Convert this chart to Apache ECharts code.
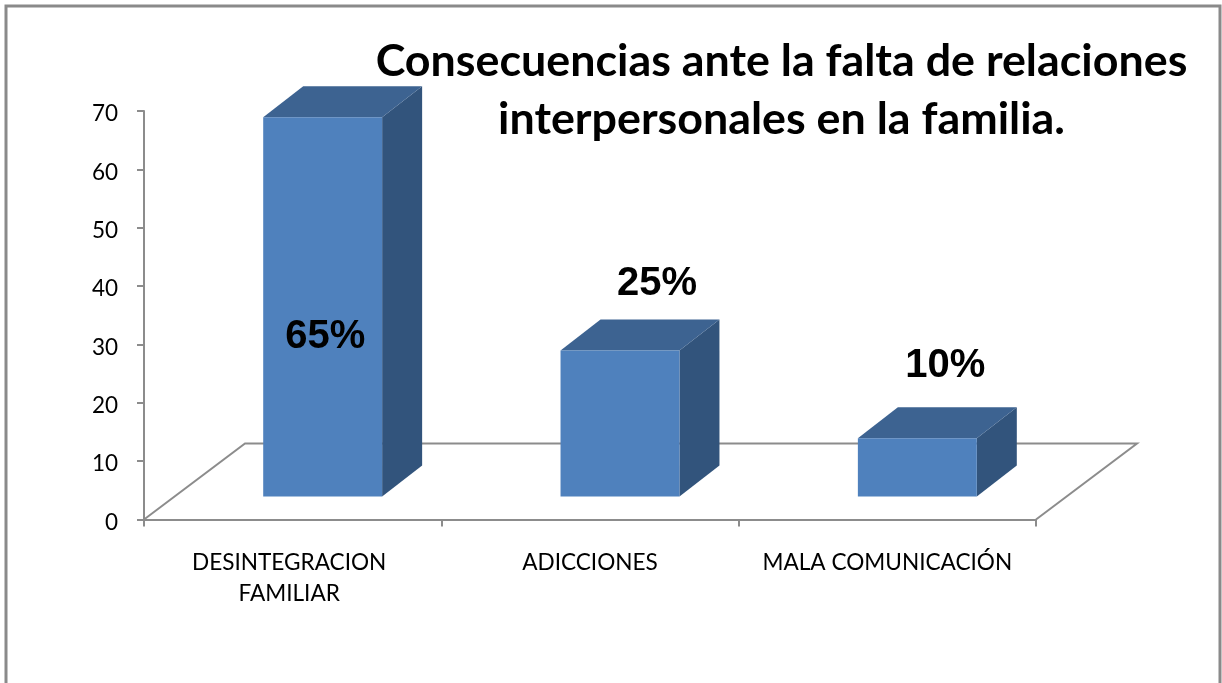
<!DOCTYPE html>
<html><head><meta charset="utf-8">
<style>html,body{margin:0;padding:0;background:#fff}#c{width:1222px;height:683px}</style>
<script src="https://cdn.jsdelivr.net/npm/echarts@6/dist/echarts.min.js"></script>
</head><body><div id="c"></div>
<script>
const categories = ['DESINTEGRACION\nFAMILIAR', 'ADICCIONES', 'MALA COMUNICACIÓN'];
const values = [65, 25, 10];
const labels = ['65%', '25%', '10%'];
const yTicks = {min: 0, max: 70, interval: 10};
const titleText = 'Consecuencias ante la falta de relaciones\ninterpersonales en la familia.';

const FONT = 'Lato';
const C = {front:'#4f81bd', top:'#3d6391', side:'#32547c', axis:'#8c8c8c', frame:'#8a8a8a'};
const FLOOR = [101, -76];
const BAR_SHIFT = [30, -23];
const BAR_DEPTH = [40, -31];
const BAR_RATIO = 0.4;
const LABEL_POS = [{dx: 2.5, y: -220}, {dx: 37, y: 67}, {dx: 28, y: 72}];

const chart = echarts.init(document.getElementById('c'), null, {renderer: 'canvas'});

function floorItem(params, api) {
  const g = params.coordSys;
  const bx = g.x, by = g.y + g.height, ex = g.x + g.width;
  const s = {stroke: C.axis, lineWidth: 2, fill: null};
  return {type: 'group', children: [
    {type: 'polyline', shape: {points: [[bx, by], [bx + FLOOR[0], by + FLOOR[1]], [ex + FLOOR[0], by + FLOOR[1]], [ex, by]]}, style: s}
  ]};
}
function barItem(params, api) {
  const i = api.value(0), v = api.value(1);
  const base = api.coord([i, 0]), topP = api.coord([i, v]);
  const w = api.size([1, 0])[0] * BAR_RATIO;
  const x0 = base[0] - w / 2 + BAR_SHIFT[0], x1 = x0 + w;
  const y0 = base[1] + BAR_SHIFT[1], y1 = topP[1] + BAR_SHIFT[1];
  const dx = BAR_DEPTH[0], dy = BAR_DEPTH[1];
  return {type: 'group', children: [
    {type: 'polygon', shape: {points: [[x1, y0], [x1 + dx, y0 + dy], [x1 + dx, y1 + dy], [x1, y1]]}, style: {fill: C.side}},
    {type: 'polygon', shape: {points: [[x0, y1], [x1, y1], [x1 + dx, y1 + dy], [x0 + dx, y1 + dy]]}, style: {fill: C.top}},
    {type: 'rect', shape: {x: x0, y: y1, width: w, height: y0 - y1}, style: {fill: C.front}}
  ]};
}
function labelItem(params, api) {
  const i = api.value(0), v = api.value(1);
  const p = api.coord([i, v]);
  const off = LABEL_POS[i];
  return {type: 'text', x: p[0] + BAR_SHIFT[0] + off.dx, y: p[1] + BAR_SHIFT[1] - off.y,
    style: {text: labels[i], fill: '#000', font: 'bold 40px "Liberation Sans"', textAlign: 'center', textVerticalAlign: 'middle'}};
}

chart.setOption({
  animation: false,
  backgroundColor: '#fff',
  title: {text: titleText, left: 776.5, top: 28, textAlign: 'center',
    textStyle: {fontFamily: FONT, fontWeight: 'bold', fontSize: 44.8, lineHeight: 58, color: '#000'}},
  graphic: [{type: 'rect', z: -1, shape: {x: 6, y: 6, width: 1214, height: 720}, style: {fill: null, stroke: C.frame, lineWidth: 3}}],
  grid: {left: 144, right: 186, top: 111, bottom: 163.5},
  xAxis: {type: 'category', data: categories, boundaryGap: true,
    axisLine: {lineStyle: {color: C.axis, width: 2}},
    axisTick: {show: true, length: 7, lineStyle: {color: C.axis, width: 2}},
    axisLabel: {color: '#000', fontFamily: FONT, fontSize: 22.6, margin: 28, lineHeight: 31, interval: 0,
      formatter: (t) => t.indexOf('\n') >= 0 ? t.split('\n').map(l => '{s|' + l + '}').join('\n') : t,
      rich: {s: {color: '#000', fontFamily: FONT, fontSize: 22.6, lineHeight: 31, padding: [0, 7, 0, 0]}}}},
  yAxis: {type: 'value', min: yTicks.min, max: yTicks.max, interval: yTicks.interval,
    splitLine: {show: false},
    axisLine: {show: true, lineStyle: {color: C.axis, width: 2}},
    axisTick: {show: true, length: 7, lineStyle: {color: C.axis, width: 2}},
    axisLabel: {color: '#000', fontFamily: FONT, fontSize: 22.5, margin: 26, verticalAlign: 'top', lineHeight: 6}},
  series: [
    {type: 'custom', name: 'floor', renderItem: floorItem, data: [0], z: 1, silent: true, clip: false},
    {type: 'custom', name: 'bars', renderItem: barItem, data: values.map((v, i) => [i, v]), z: 2, clip: false, encode: {x: 0, y: 1}},
    {type: 'custom', name: 'labels', renderItem: labelItem, data: values.map((v, i) => [i, v]), z: 3, clip: false, encode: {x: 0, y: 1}}
  ]
});
</script></body></html>
